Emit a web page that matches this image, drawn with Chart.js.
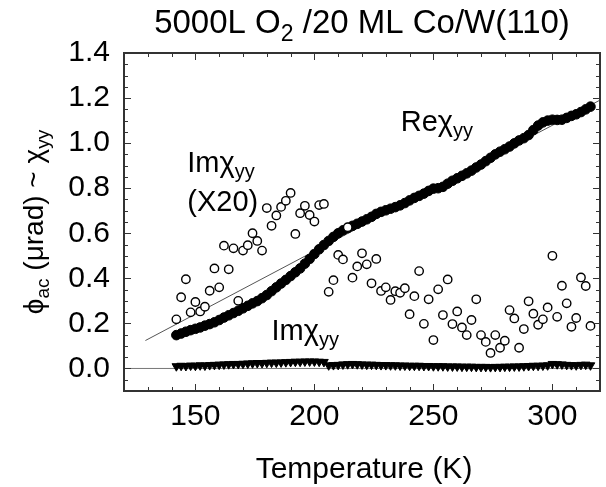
<!DOCTYPE html>
<html>
<head>
<meta charset="utf-8">
<script src="https://cdn.jsdelivr.net/npm/chart.js@4/dist/chart.umd.min.js"></script>
<style>
  html, body { margin: 0; padding: 0; background: #fff; }
  #wrap { width: 606px; height: 487px; }
</style>
</head>
<body>
<div id="wrap"><canvas id="chart" width="606" height="487"></canvas></div>
<script>
// temperatures (K) shared by the three measured series
const temps = [
  142, 144, 146, 148, 150, 152, 154, 156, 158, 160,
  162, 164, 166, 168, 170, 172, 174, 176, 178, 180,
  182, 184, 186, 188, 190, 192, 194, 196, 198, 200,
  202, 204, 206, 208, 210, 212, 214, 216, 218, 220,
  222, 224, 226, 228, 230, 232, 234, 236, 238, 240,
  242, 244, 246, 248, 250, 252, 254, 256, 258, 260,
  262, 264, 266, 268, 270, 272, 274, 276, 278, 280,
  282, 284, 286, 288, 290, 292, 294, 296, 298, 300,
  302, 304, 306, 308, 310, 312, 314, 316
];

// Re chi_yy (filled circles)
const reChi = [
  0.148, 0.155, 0.163, 0.170, 0.176, 0.182, 0.190, 0.197, 0.205, 0.215,
  0.226, 0.236, 0.246, 0.256, 0.267, 0.278, 0.289, 0.299, 0.312, 0.326,
  0.343, 0.360, 0.377, 0.393, 0.410, 0.427, 0.444, 0.465, 0.486, 0.508,
  0.529, 0.548, 0.566, 0.584, 0.600, 0.613, 0.623, 0.633, 0.642, 0.652,
  0.662, 0.673, 0.686, 0.695, 0.702, 0.709, 0.716, 0.724, 0.734, 0.746,
  0.757, 0.766, 0.776, 0.788, 0.798, 0.800, 0.806, 0.820, 0.833, 0.844,
  0.855, 0.866, 0.878, 0.892, 0.905, 0.920, 0.935, 0.950, 0.962, 0.973,
  0.985, 0.999, 1.012, 1.022, 1.036, 1.058, 1.078, 1.092, 1.100, 1.104,
  1.103, 1.104, 1.112, 1.121, 1.128, 1.138, 1.150, 1.162
];

// Im chi_yy x20 (open circles)
const imChi20 = [
  0.218, 0.316, 0.396, 0.249, 0.295, 0.253, 0.274, 0.345, 0.444, 0.360,
  0.545, 0.440, 0.533, 0.300, 0.523, 0.547, 0.600, 0.566, 0.523, 0.712,
  0.633, 0.679, 0.717, 0.744, 0.779, 0.597, 0.689, 0.722, 0.681, 0.652,
  0.725, 0.730, 0.340, 0.392, 0.504, 0.484, 0.627, 0.403, 0.453, 0.511,
  0.462, 0.378, 0.486, 0.344, 0.360, 0.304, 0.343, 0.336, 0.356, 0.241,
  0.321, 0.432, 0.198, 0.307, 0.126, 0.351, 0.237, 0.395, 0.197, 0.253,
  0.182, 0.148, 0.215, 0.307, 0.148, 0.118, 0.069, 0.148, 0.092, 0.123,
  0.259, 0.222, 0.092, 0.175, 0.298, 0.243, 0.194, 0.218, 0.271, 0.500,
  0.229, 0.367, 0.289, 0.185, 0.224, 0.404, 0.366, 0.189
];

// Im chi_yy (filled down triangles)
const imChi = [
  0.010, 0.012, 0.011, 0.013, 0.012, 0.014, 0.013, 0.015, 0.016, 0.017,
  0.018, 0.019, 0.020, 0.020, 0.021, 0.022, 0.023, 0.024, 0.024, 0.025,
  0.026, 0.026, 0.027, 0.028, 0.029, 0.030, 0.030, 0.031, 0.031, 0.031,
  0.030, 0.029, 0.014, 0.015, 0.016, 0.018, 0.019, 0.020, 0.019, 0.018,
  0.017, 0.017, 0.016, 0.015, 0.015, 0.014, 0.014, 0.013, 0.013, 0.012,
  0.012, 0.012, 0.011, 0.011, 0.010, 0.010, 0.010, 0.009, 0.009, 0.009,
  0.008, 0.008, 0.008, 0.007, 0.007, 0.007, 0.006, 0.007, 0.007, 0.008,
  0.008, 0.009, 0.009, 0.010, 0.011, 0.012, 0.012, 0.013, 0.014, 0.020,
  0.019, 0.018, 0.016, 0.015, 0.014, 0.016, 0.017, 0.014
];

// thin guide lines
const fitT = [129, 320];
const fitV = [0.124, 1.191];
const zeroT = [120, 320];
const zeroV = [0, 0];

// axes
const xMajorTicks = [150, 200, 250, 300];
const yMajorTicks = [0.0, 0.2, 0.4, 0.6, 0.8, 1.0, 1.2, 1.4];

const FONT = '"Liberation Sans", Arial, Helvetica, sans-serif';

const pts = (xs, ys) => xs.map((t, i) => ({ x: t, y: ys[i] }));

// draw text made of pieces: [text, size, baseline shift]
function drawRich(ctx, parts, x, y, align) {
  let w = 0;
  parts.forEach(p => { ctx.font = p[1] + 'px ' + FONT; w += ctx.measureText(p[0]).width; });
  let cx = align === 'center' ? x - w / 2 : x;
  ctx.textAlign = 'left';
  ctx.textBaseline = 'alphabetic';
  parts.forEach(p => {
    ctx.font = p[1] + 'px ' + FONT;
    ctx.fillText(p[0], cx, y + (p[2] || 0));
    cx += ctx.measureText(p[0]).width;
  });
}

const frame = {
  id: 'frame',
  afterDatasetsDraw(chart) {
    const { ctx, chartArea: a, scales: { x, y } } = chart;
    ctx.save();
    ctx.strokeStyle = '#333';
    ctx.lineWidth = 1;
    ctx.beginPath();
    for (let v = 130; v <= 310; v += 10) {
      const p = Math.round(x.getPixelForValue(v)) + 0.5;
      const len = xMajorTicks.includes(v) ? 7 : 4;
      ctx.moveTo(p, a.bottom); ctx.lineTo(p, a.bottom - len);
      ctx.moveTo(p, a.top); ctx.lineTo(p, a.top + len);
    }
    for (let k = -2; k <= 27; k++) {
      const v = k * 0.05;
      const p = Math.round(y.getPixelForValue(v)) + 0.5;
      const len = k % 4 === 0 ? 7 : 4;
      ctx.moveTo(a.left, p); ctx.lineTo(a.left + len, p);
      ctx.moveTo(a.right, p); ctx.lineTo(a.right - len, p);
    }
    ctx.stroke();
    ctx.lineWidth = 2;
    ctx.strokeRect(a.left, a.top, a.right - a.left, a.bottom - a.top);
    ctx.restore();
  },
  afterDraw(chart) {
    const { ctx, chartArea: a, scales: { x, y } } = chart;
    ctx.save();
    ctx.fillStyle = '#000';
    const cx = (a.left + a.right) / 2;
    drawRich(ctx, [['5000L O', 33], ['2', 23, 8], [' /20 ML Co/W(110)', 33]], cx, 33, 'center');
    drawRich(ctx, [['Temperature (K)', 30]], cx + 2, 478, 'center');
    // y axis title
    ctx.save();
    ctx.translate(43, (a.top + a.bottom) / 2);
    ctx.rotate(-Math.PI / 2);
    drawRich(ctx, [['ϕ', 28], ['ac', 19, 6], [' (μrad) ~ ', 28], ['χ', 28], ['yy', 19, 6]], 0, 0, 'center');
    ctx.restore();
    // series labels
    drawRich(ctx, [['Imχ', 29], ['yy', 20, 6]], x.getPixelForValue(146.6), y.getPixelForValue(0.872), 'left');
    drawRich(ctx, [['(X20)', 29]], x.getPixelForValue(146.6), y.getPixelForValue(0.699), 'left');
    drawRich(ctx, [['Reχ', 29], ['yy', 20, 6]], x.getPixelForValue(236.3), y.getPixelForValue(1.056), 'left');
    drawRich(ctx, [['Imχ', 29], ['yy', 20, 6]], x.getPixelForValue(182), y.getPixelForValue(0.126), 'left');
    ctx.restore();
  }
};

new Chart(document.getElementById('chart'), {
  type: 'scatter',
  data: {
    datasets: [
      {
        label: 'Im chi_yy (X20)',
        data: pts(temps, imChi20),
        pointStyle: 'circle',
        pointRadius: 4.2,
        borderWidth: 1.4,
        borderColor: '#000',
        backgroundColor: '#fff'
      },
      {
        label: 'Re chi_yy',
        data: pts(temps, reChi),
        pointStyle: 'circle',
        pointRadius: 4.8,
        borderWidth: 1,
        borderColor: '#000',
        backgroundColor: '#000'
      },
      {
        label: 'Im chi_yy',
        data: pts(temps, imChi),
        pointStyle: 'triangle',
        rotation: 180,
        pointRadius: 5,
        borderWidth: 1,
        borderColor: '#000',
        backgroundColor: '#000'
      },
      {
        type: 'line',
        label: 'fit',
        data: pts(fitT, fitV),
        borderColor: '#555',
        borderWidth: 1,
        pointRadius: 0,
        showLine: true
      },
      {
        type: 'line',
        label: 'zero',
        data: pts(zeroT, zeroV),
        borderColor: '#777',
        borderWidth: 1,
        pointRadius: 0,
        showLine: true
      }
    ]
  },
  options: {
    responsive: false,
    animation: false,
    events: [],
    layout: { padding: { top: 53, right: 3, left: 0, bottom: 0 } },
    plugins: { legend: { display: false }, tooltip: { enabled: false } },
    scales: {
      x: {
        type: 'linear',
        min: 120,
        max: 320,
        grid: { display: false, drawTicks: false },
        border: { display: false },
        afterBuildTicks: s => { s.ticks = xMajorTicks.map(v => ({ value: v })); },
        afterFit: s => { s.height = 96; },
        ticks: {
          padding: 8,
          color: '#000',
          font: { family: FONT, size: 30 },
          callback: v => String(v)
        }
      },
      y: {
        type: 'linear',
        min: -0.1,
        max: 1.4,
        grid: { display: false, drawTicks: false },
        border: { display: false },
        afterBuildTicks: s => { s.ticks = yMajorTicks.map(v => ({ value: v })); },
        afterFit: s => { s.width = 124; },
        ticks: {
          padding: 14,
          color: '#000',
          font: { family: FONT, size: 30 },
          callback: v => v.toFixed(1)
        }
      }
    }
  },
  plugins: [frame]
});
</script>
</body>
</html>
